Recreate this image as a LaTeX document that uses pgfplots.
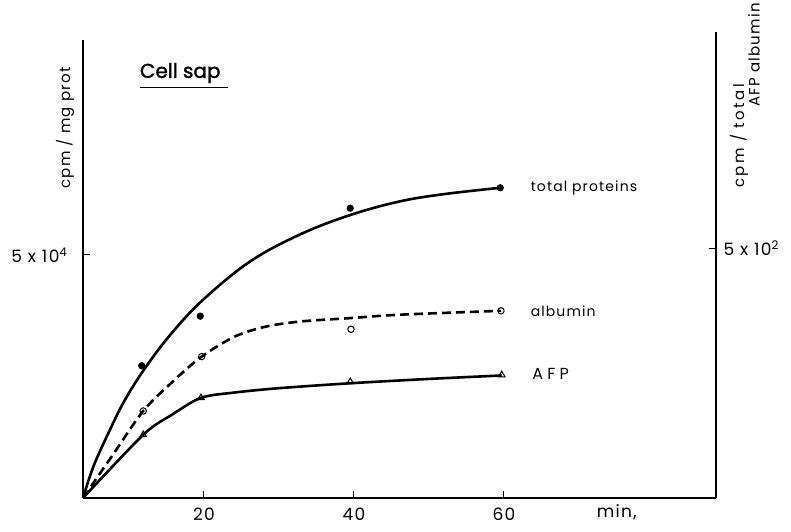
\documentclass[border=0pt]{standalone}
\usepackage{fontspec}
\setmainfont{Poppins}
\newfontfamily\spaced[LetterSpace=8]{Poppins}
\newfontfamily\wide[LetterSpace=16]{Poppins}
\newfontfamily\heavy[FakeBold=1.6]{Poppins}
\usepackage{pgfplots}
\pgfplotsset{compat=1.18}

\begin{document}
\begin{tikzpicture}[x=1pt,y=1pt]
\useasboundingbox (0,0) rectangle (791,531);

% left axis, all three series
\begin{axis}[
  at={(83pt,33pt)}, anchor=south west,
  scale only axis, width=633pt, height=458pt,
  xmin=3.87, xmax=88.27, ymin=0, ymax=9.42,
  axis x line=bottom, axis y line=left,
  axis line style={-, line width=1.4pt},
  xtick={20,40,60}, xticklabels={20,40,60},
  ytick={5}, yticklabels={5 x 10\textsuperscript{4}},
  tick align=inside, major tick length=7pt,
  tick style={line width=1pt, black},
  ticklabel style={font=\spaced\fontsize{17}{19}\selectfont},
  xticklabel style={yshift=-6pt},
  yticklabel style={xshift=-12pt},
  clip=false,
]
% total proteins
\addplot[line width=2.6pt, smooth, tension=0.6] coordinates {
(3.87,0) (5.24,0.64) (7.24,1.33) (9.47,2.02) (12.27,2.70) (15.69,3.39) (19.83,4.07)
(26.1,4.86) (32.8,5.42) (39.5,5.82) (46.1,6.10) (52,6.25) (59.5,6.38)
};
% albumin
\addplot[line width=2.6pt, dash pattern=on 9pt off 5pt, smooth, tension=0.5] coordinates {
(3.87,0) (7.9,0.90) (11.9,1.79) (15.8,2.39) (19.7,2.91) (24.1,3.32) (28.1,3.52)
(32.8,3.63) (39.5,3.70) (46.1,3.77) (59.6,3.85)
};
% AFP
\addplot[line width=2.6pt, smooth, tension=0.5] coordinates {
(3.87,0) (11.9,1.30) (15.7,1.71) (19.6,2.06) (24.1,2.17) (30.1,2.26)
(39.5,2.36) (50.1,2.45) (59.7,2.52)
};

\addplot[only marks, mark=*, mark size=3.4pt] coordinates {
(11.7,2.72) (19.5,3.74) (39.5,5.96) (59.5,6.38)
};
\addplot[only marks, mark=o, mark size=3.2pt, mark options={fill=white, line width=1pt}] coordinates {
(11.9,1.79) (19.7,2.91) (39.6,3.47) (59.6,3.85)
};
\addplot[only marks, mark=triangle, mark size=3.8pt, mark options={fill=white, line width=1pt}] coordinates {
(11.9,1.30) (19.6,2.06) (39.5,2.39) (59.7,2.53)
};

\node[anchor=west, font=\spaced\fontsize{14}{16}\selectfont] at (axis cs:63.1,6.38) {total proteins};
\node[anchor=west, font=\spaced\fontsize{14}{16}\selectfont] at (axis cs:63.1,3.85) {albumin};
\node[anchor=west, font=\fontsize{16}{18}\selectfont] at (axis cs:63.3,2.55) {A F P};
\node[anchor=west, font=\heavy\fontsize{20}{22}\selectfont] at (axis cs:11.0,8.74) {Cell sap};
\draw[line width=1pt] (axis cs:11.47,8.44) -- (axis cs:23.2,8.44);
\node[anchor=base west, font=\spaced\fontsize{17}{19}\selectfont] at (axis cs:71.9,-0.40) {min,};
\end{axis}

% right axis
\begin{axis}[
  at={(716pt,33pt)}, anchor=south east,
  scale only axis, width=633pt, height=466pt,
  xmin=3.87, xmax=88.27, ymin=0, ymax=9.59,
  axis x line=none, axis y line=right,
  axis line style={-, line width=1.4pt},
  ytick={5.14}, yticklabels={5 x 10\textsuperscript{2}},
  tick align=inside, major tick length=7pt,
  tick style={line width=1pt, black},
  ticklabel style={font=\spaced\fontsize{17}{19}\selectfont},
  yticklabel style={xshift=4pt},
]
\end{axis}

\node[rotate=90, font=\spaced\fontsize{15}{17}\selectfont] at (65,403) {cpm / mg prot};
\node[rotate=90, font=\wide\fontsize{15}{17}\selectfont] at (739,395) {cpm / total};
\node[rotate=90, font=\spaced\fontsize{15}{17}\selectfont] at (754,476) {AFP albumin};
\end{tikzpicture}
\end{document}
